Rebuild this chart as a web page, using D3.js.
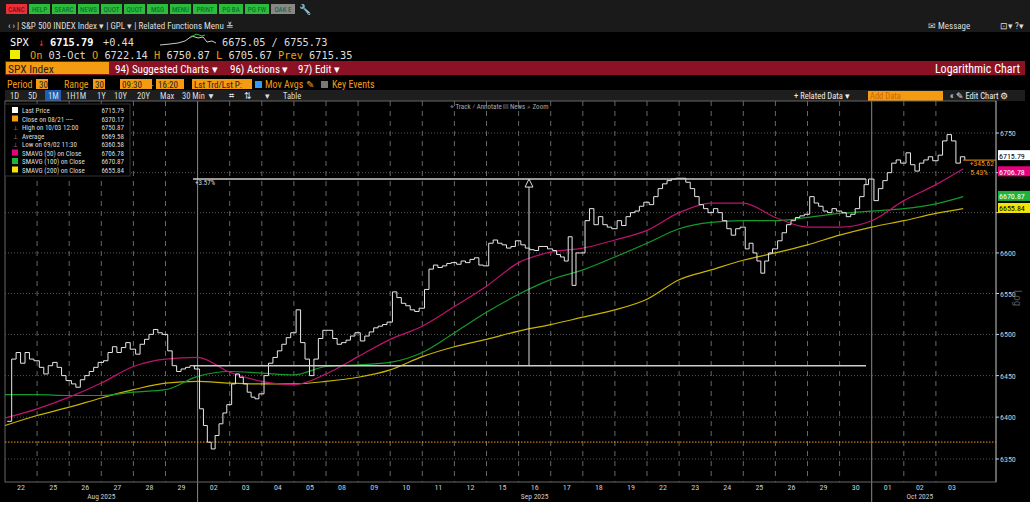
<!DOCTYPE html>
<html><head><meta charset="utf-8">
<script src="https://cdn.jsdelivr.net/npm/d3@7"></script>
<style>body{margin:0;background:#fff;}svg{display:block;font-family:"Liberation Sans Narrow","Roboto Condensed",Arial,sans-serif;}</style>
</head><body>
<svg id="c" width="1033" height="506"></svg>
<script>
const days = ["22","25","26","27","28","29","02","03","04","05","08","09","10","11","12","15","16","17","18","19","22","23","24","25","26","29","30","01","02","03"];
const months = [{label:"Aug 2025",from:0,to:6},{label:"Sep 2025",from:6,to:27},{label:"Oct 2025",from:27,to:30}];
const dayPrices = [
 [6395,6470,6478,6465,6478,6470,6468],
 [6460,6452,6462,6466,6460,6450,6444],
 [6440,6436,6445,6450,6455,6460,6466],
 [6468,6478,6485,6478,6484,6490,6482],
 [6476,6488,6494,6500,6506,6502,6500],
 [6480,6462,6455,6458,6460,6462,6458],
 [6410,6390,6370,6362,6378,6392,6405,6415],
 [6440,6452,6448,6440,6430,6424,6422,6428],
 [6450,6465,6472,6480,6488,6496,6502],
 [6530,6490,6470,6450,6470,6495,6505],
 [6505,6495,6488,6490,6493,6498,6502],
 [6492,6498,6503,6508,6510,6512,6515],
 [6552,6545,6538,6535,6530,6528,6532],
 [6555,6580,6585,6582,6584,6587,6588],
 [6586,6590,6588,6592,6594,6585,6584],
 [6612,6616,6612,6610,6606,6608,6615],
 [6610,6606,6604,6603,6608,6608,6605],
 [6603,6598,6595,6590,6620,6560,6600,6600],
 [6640,6655,6635,6645,6635,6632,6630],
 [6640,6634,6645,6650,6652,6658,6663],
 [6660,6670,6680,6686,6690,6692,6693],
 [6693,6688,6680,6670,6660,6655,6650],
 [6655,6650,6640,6630,6622,6630,6632],
 [6605,6612,6600,6590,6575,6590,6600,6605],
 [6615,6625,6635,6640,6644,6646,6648],
 [6670,6662,6658,6652,6650,6655,6652],
 [6650,6645,6648,6655,6670,6685,6692],
 [6665,6680,6690,6700,6712,6716,6712],
 [6725,6710,6702,6712,6716,6720,6715],
 [6722,6740,6748,6740,6712,6720,6716]
];
const sma50  = [6399,6410,6424,6441,6461,6470,6472,6454,6443,6439,6452,6473,6494,6510,6534,6559,6588,6601,6606,6616,6628,6650,6662,6662,6644,6632,6632,6640,6665,6685,6705];
const sma100 = [6427,6427,6426,6426,6430,6433,6449,6455,6453,6451,6461,6463,6466,6478,6502,6527,6549,6567,6579,6595,6612,6630,6638,6640,6640,6644,6649,6652,6655,6661,6670];
const sma200 = [6390,6402,6412,6423,6433,6441,6443,6441,6440,6440,6443,6448,6457,6473,6485,6494,6504,6512,6521,6530,6543,6567,6579,6591,6600,6610,6622,6632,6640,6649,6655];
const yTicks = [6350,6400,6450,6500,6550,6600,6650,6700,6750];
const legend = [
 ["#fff","Last Price","6715.79"],["#f39c12","Close on 08/21 ----","6370.17"],[null,"High on 10/03 12:00","6750.87"],
 [null,"Average","6569.58"],[null,"Low on 09/02 11:30","6360.58"],["#e6007e","SMAVG (50)  on Close","6706.78"],
 ["#1db33a","SMAVG (100)  on Close","6670.87"],["#f5e400","SMAVG (200)  on Close","6655.84"]];
const badges = [[6715.79,"6715.79","#fff","#000",-5],[6706.78,"6706.78","#e6007e","#fff",4],[6670.87,"6670.87","#1db33a","#fff",0],[6655.84,"6655.84","#f5e400","#000",0]];

const svg = d3.select("#c");
svg.append("rect").attr("width",1030).attr("height",502).attr("fill","#000");
const btns=[["CANC","#e8303a"],["HELP","#2dbb3c"],["SEARC","#2dbb3c"],["NEWS","#2dbb3c"],["QUOT","#2dbb3c"],["QUOT","#2dbb3c"],["MSG","#2dbb3c"],["MENU","#2dbb3c"],["PRINT","#2dbb3c"],["PG BA","#2dbb3c"],["PG FW","#2dbb3c"],["OAK E","#888"]];
svg.append("rect").attr("x",0).attr("y",0).attr("width",1030).attr("height",32).attr("fill","#1a1a1a");
let bx=6;
btns.forEach(([t,c])=>{const w=t.length>4?24:21;svg.append("rect").attr("x",bx).attr("y",4).attr("width",w).attr("height",10).attr("fill",c);
 svg.append("text").attr("x",bx+w/2).attr("y",12).attr("text-anchor","middle").attr("font-size",7).attr("fill",t==="CANC"?"#700":"#063").text(t);bx+=w+2;});
svg.append("text").attr("x",bx+2).attr("y",13).attr("fill","#ddd").attr("font-size",10).text("🔧");
const T=(x,y,s,fs,c,a)=>svg.append("text").attr("x",x).attr("y",y).attr("font-size",fs).attr("fill",c).attr("text-anchor",a||"start").text(s);
T(8,29,"‹  ›  |  S&P 500 INDEX Index ▾  |  GPL ▾  |  Related Functions Menu ≚",9,"#ddd");
T(928,29,"✉ Message",9,"#ddd");T(1000,29,"⊡▾  ?▾",9,"#ddd");
const mono='"DejaVu Sans Mono","Liberation Mono",monospace';
T(10,46,"SPX",10.3,"#fff").attr("font-family",mono);
T(38,46,"↓",10.3,"#e33").attr("font-family",mono);
T(50,46,"6715.79",10.3,"#fff").attr("font-family",mono).attr("font-weight","bold");
T(103,46,"+0.44",10.3,"#ddd").attr("font-family",mono);
svg.append("path").attr("d","M160 45 L170 44 L178 43 L185 41 L192 36 L198 38 L203 37 L207 42 L212 41 L216 43").attr("stroke","#ccc").attr("fill","none");
svg.append("path").attr("d","M190 38 L196 34 L202 36 L205 35").attr("stroke","#2c2").attr("fill","none");
T(222,46,"6675.05 / 6755.73",10.3,"#ddd").attr("font-family",mono);
svg.append("rect").attr("x",10).attr("y",50).attr("width",10).attr("height",9).attr("fill","#ee0");
const r4=svg.append("text").attr("x",30).attr("y",59).attr("font-size",10.3).attr("font-family",mono).attr("fill","#ddd");
[["On ","#f39c12"],["03-Oct ","#ddd"],["O ","#f39c12"],["6722.14 ","#ddd"],["H ","#f39c12"],["6750.87 ","#ddd"],["L ","#f39c12"],["6705.67 ","#ddd"],["Prev ","#f39c12"],["6715.35","#ddd"]].forEach(([s,c])=>r4.append("tspan").attr("fill",c).text(s));
svg.append("rect").attr("x",5).attr("y",61).attr("width",1020).attr("height",14).attr("fill","#8a1224");
svg.append("rect").attr("x",6).attr("y",62).attr("width",103).attr("height",12).attr("fill","#f39c12");
T(8,73,"SPX Index",11.5,"#222");
T(115,73,"94) Suggested Charts ▾",11,"#fff");T(230,73,"96) Actions ▾",11,"#fff");T(298,73,"97) Edit ▾",11,"#fff");
T(1020,73,"Logarithmic Chart",12,"#fff","end");
T(7,88,"Period",10,"#f39c12");
[[36,12],[93,12],[120,32],[156,28],[192,60]].forEach(([a,w])=>svg.append("rect").attr("x",a).attr("y",79).attr("width",w).attr("height",10).attr("fill","#f39c12"));
T(39,88,"30",9,"#222");T(64,88,"Range",10,"#f39c12");
T(95,88,"30",9,"#222");T(122,88,"09:30",9,"#222");T(151,88,"-",9,"#f39c12");T(158,88,"16:20",9,"#222");T(194,88,"Lst Trd/Lst P:",9,"#222");
svg.append("rect").attr("x",255).attr("y",81).attr("width",7).attr("height",7).attr("fill","#39f");
T(265,88,"Mov Avgs ✎",10,"#f39c12");svg.append("rect").attr("x",321).attr("y",81).attr("width",7).attr("height",7).attr("fill","#777");T(332,88,"Key Events",10,"#f39c12");
svg.append("rect").attr("x",5).attr("y",90).attr("width",1020).attr("height",11).attr("fill","#1e1e1e");
svg.append("rect").attr("x",45).attr("y",90).attr("width",16).attr("height",11).attr("fill","#1a5fb4");
[["1D",10],["5D",28],["1M",48],["1H1M",66],["1Y",97],["10Y",114],["20Y",137],["Max",160],["30 Min ▼",182],["⌗",229],["⇅",244],["▾",265],["Table",283]].forEach(([s,xx])=>T(xx,99,s,8.5,"#ddd"));
T(794,99,"+ Related Data ▾",8.5,"#eee");
svg.append("rect").attr("x",868).attr("y",91).attr("width",75).attr("height",10).attr("fill","#f39c12");
T(870,99,"Add Data",8.5,"#c60");T(950,99,"«  ✎ Edit Chart ⚙",8.5,"#eee");

const x=d3.scaleLinear().domain([0,30]).range([5,968]);
const y=d3.scaleLog().domain([6350,6750]).range([459,133]);
const pTop=101,pBot=482,axX=996;
const g=svg.append("g");
yTicks.forEach(v=>g.append("line").attr("x1",5).attr("x2",axX).attr("y1",y(v)).attr("y2",y(v)).attr("stroke","#555").attr("stroke-dasharray","1,2"));
d3.range(1,30).forEach(i=>{const mb=months.some(m=>m.from===i);
 g.append("line").attr("x1",x(i)).attr("x2",x(i)).attr("y1",pTop).attr("y2",mb?502:pBot).attr("stroke",mb?"#888":"#666").attr("stroke-dasharray",mb?null:"5,5");});
g.append("rect").attr("x",5).attr("y",pTop).attr("width",axX-5).attr("height",pBot-pTop).attr("fill","none").attr("stroke","#666");
T(450,109,"⌖ Track  ⁄ Annotate  ▤ News  ⌕ Zoom",7,"#aaa");
g.append("line").attr("x1",5).attr("x2",axX).attr("y1",y(6370.17)).attr("y2",y(6370.17)).attr("stroke","#f39c12").attr("stroke-dasharray","1.5,1.5");
const maLine=arr=>d3.line().x((d,i)=>x(i===30?29.85:i)).y(d=>y(d)).curve(d3.curveMonotoneX)(arr);
g.append("path").attr("d",maLine(sma200)).attr("stroke","#c8b400").attr("fill","none").attr("stroke-width",1.2);
g.append("path").attr("d",maLine(sma100)).attr("stroke","#159a2c").attr("fill","none").attr("stroke-width",1.2);
g.append("path").attr("d",maLine(sma50)).attr("stroke","#c0126e").attr("fill","none").attr("stroke-width",1.2);
const pts=[];dayPrices.forEach((arr,i)=>arr.forEach((v,k)=>pts.push([i+(k+0.5)/arr.length*0.97,v])));
g.append("path").attr("d",d3.line().x(d=>x(d[0])).y(d=>y(d[1])).curve(d3.curveStepAfter)(pts)).attr("stroke","#e8e8e8").attr("fill","none").attr("stroke-width",1);
const aL=6462,aH=6692;
g.append("line").attr("x1",193).attr("x2",866).attr("y1",y(aL)).attr("y2",y(aL)).attr("stroke","#ccc").attr("stroke-width",1.5);
g.append("line").attr("x1",193).attr("x2",866).attr("y1",y(aH)).attr("y2",y(aH)).attr("stroke","#ccc").attr("stroke-width",1.5);
g.append("line").attr("x1",866).attr("x2",866).attr("y1",y(aH)).attr("y2",y(aH)+6).attr("stroke","#ccc");
g.append("line").attr("x1",529).attr("x2",529).attr("y1",y(aL)).attr("y2",y(aH)).attr("stroke","#ddd");
g.append("path").attr("d",`M525 ${y(aH)+8} L529 ${y(aH)} L533 ${y(aH)+8} Z`).attr("stroke","#ddd").attr("fill","#000");
T(195,185,"+3.57%",7,"#ddd");
g.append("line").attr("x1",x(29.85)).attr("x2",axX).attr("y1",y(6715.79)).attr("y2",y(6715.79)).attr("stroke","#f39c12");
T(994,166,"+345.62",7.5,"#f39c12","end");T(988,175,"5.43%",7.5,"#f39c12","end");
g.append("line").attr("x1",axX).attr("x2",axX).attr("y1",pTop).attr("y2",pBot).attr("stroke","#999");
yTicks.forEach(v=>{g.append("line").attr("x1",axX).attr("x2",axX+3).attr("y1",y(v)).attr("y2",y(v)).attr("stroke","#ccc");
 const hidden=badges.some(b=>Math.abs(y(b[0])+b[4]-y(v))<7);
 if(!hidden) T(axX+4,y(v)+3,v,8,"#ccc");});
T(1014,290,"Log",11,"#555").attr("transform","rotate(90,1014,290)");
badges.forEach(([v,s,bg,fg,dy])=>{const yy=y(v)+dy;svg.append("rect").attr("x",axX+2).attr("y",yy-5).attr("width",33).attr("height",10).attr("fill",bg);
 T(axX+3,yy+3.5,s,8,fg);});
svg.append("rect").attr("x",5).attr("y",104).attr("width",125).attr("height",72).attr("fill","#000").attr("stroke","#333");
legend.forEach(([c,l,v],i)=>{const yy=113+i*8.5;
 if(c) svg.append("rect").attr("x",12).attr("y",yy-6).attr("width",6).attr("height",6).attr("fill",c);
 else T(13,yy,"⊥",6,"#aaa");
 T(22,yy,l,7,"#ddd");T(124,yy,v,7,"#ddd","end");});
days.forEach((d,i)=>T(x(i+0.5),490,d,8,"#ccc","middle"));
months.forEach(m=>T(x((m.from+m.to)/2),499,m.label,7.5,"#ccc","middle"));
svg.append("rect").attr("x",1030).attr("y",0).attr("width",3).attr("height",506).attr("fill","#fff");
svg.append("rect").attr("x",0).attr("y",502).attr("width",1033).attr("height",4).attr("fill","#fff");
</script></body></html>
